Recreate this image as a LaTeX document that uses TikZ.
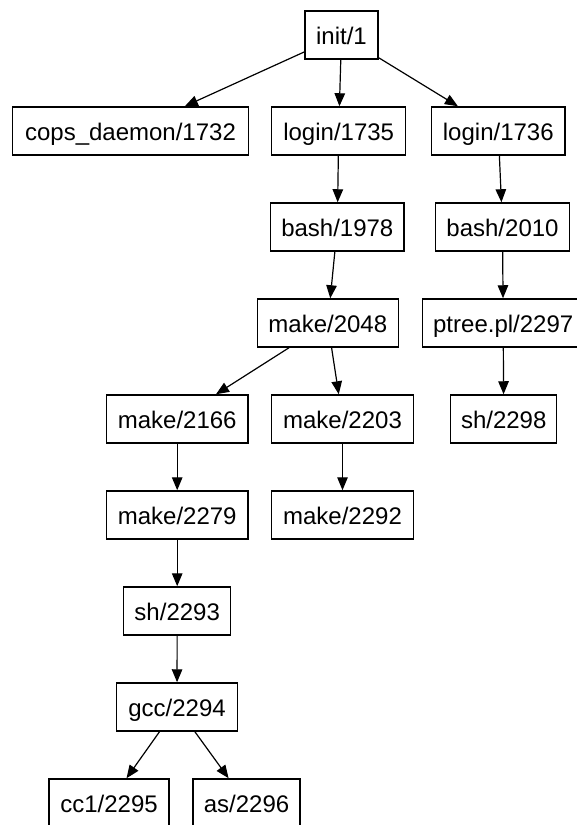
\documentclass[tikz,border=0pt]{standalone}
\usepackage{fontspec}
\setmainfont{Liberation Sans}
\usetikzlibrary{arrows.meta}

\tikzset{
  proc/.style={draw=black, line width=1.5pt, fill=white, inner sep=0pt,
    minimum height=48pt, minimum width=#1, text height=19.4pt, text depth=0pt,
    font=\fontsize{24}{28}\selectfont},
  link/.style={line width=1.2pt, -{Triangle[length=13pt,width=10.5pt]}},
}

\begin{document}
\begin{tikzpicture}[x=1pt, y=-1pt]
  \useasboundingbox (0,0) rectangle (577,825);
  \clip (0,0) rectangle (577,825);

  % process tree, one row per generation
  \node[proc=73pt]    (init)  at (341.5,35)  {init/1};

  \node[proc=235.6pt] (cops)  at (130.5,131) {cops\_daemon/1732};
  \node[proc=134pt]   (la)    at (338.7,131) {login/1735};
  \node[proc=133.3pt] (lb)    at (498.3,131) {login/1736};

  \node[proc=133.3pt] (ba)    at (337.3,227) {bash/1978};
  \node[proc=133.6pt] (bb)    at (502.5,227) {bash/2010};

  \node[proc=141pt]   (mk1)   at (327.8,323) {make/2048};
  \node[proc=161pt]   (ptree) at (503.2,323) {ptree.pl/2297};

  \node[proc=141.7pt] (mk2)   at (177.2,419) {make/2166};
  \node[proc=141.6pt] (mk3)   at (342.5,419) {make/2203};
  \node[proc=106pt]   (sha)   at (503.7,419) {sh/2298};

  \node[proc=141.7pt] (mk4)   at (177.2,515) {make/2279};
  \node[proc=141.6pt] (mk5)   at (342.5,515) {make/2292};

  \node[proc=107pt]   (shb)   at (177.2,611) {sh/2293};

  \node[proc=120.6pt] (gcc)   at (177,707)   {gcc/2294};

  \node[proc=120pt]   (cc)    at (109,803)   {cc1/2295};
  \node[proc=107pt]   (as)    at (246.5,803) {as/2296};

  % parent -> child links
  \draw[link] (init) -- (cops);
  \draw[link] (init) -- (la);
  \draw[link] (init) -- (lb);
  \draw[link] (la) -- (ba);
  \draw[link] (lb) -- (bb);
  \draw[link] (ba) -- (mk1);
  \draw[link] (bb) -- (ptree);
  \draw[link] (mk1) -- (mk2);
  \draw[link] (mk1) -- (mk3);
  \draw[link] (ptree) -- (sha);
  \draw[link] (mk2) -- (mk4);
  \draw[link] (mk3) -- (mk5);
  \draw[link] (mk4) -- (shb);
  \draw[link] (shb) -- (gcc);
  \draw[link] (gcc) -- (cc);
  \draw[link] (gcc) -- (as);
\end{tikzpicture}
\end{document}
